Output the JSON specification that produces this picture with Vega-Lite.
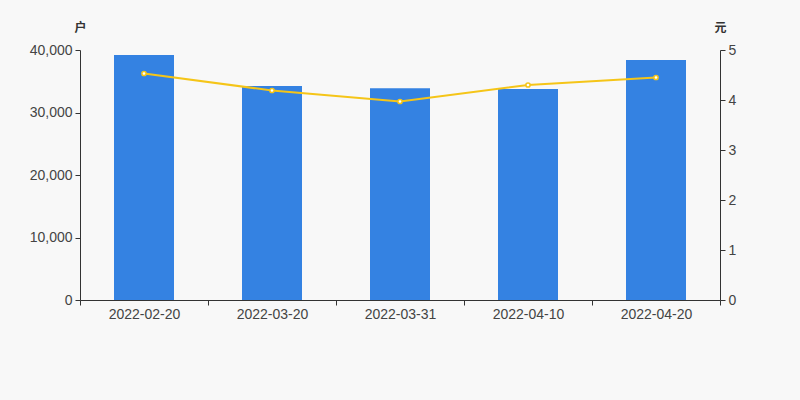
{
  "$schema": "https://vega.github.io/schema/vega-lite/v6.json",
  "width": 640,
  "height": 250,
  "autosize": {"type": "none"},
  "padding": {"left": 80, "top": 50, "right": 80, "bottom": 100},
  "background": "#f8f8f8",
  "config": {
    "view": {"stroke": null},
    "axis": {
      "labelFont": "Liberation Sans",
      "labelFontSize": 14,
      "labelColor": "#444",
      "domainColor": "#333",
      "tickColor": "#333",
      "grid": false,
      "titleFont": "Noto Sans CJK SC",
      "titleFontSize": 12,
      "titleFontWeight": "bold",
      "titleColor": "#333"
    }
  },
  "data": {
    "values": [
      {"date": "2022-02-20", "households": 39200, "price": 4.53},
      {"date": "2022-03-20", "households": 34240, "price": 4.19},
      {"date": "2022-03-31", "households": 33870, "price": 3.97},
      {"date": "2022-04-10", "households": 33760, "price": 4.30},
      {"date": "2022-04-20", "households": 38400, "price": 4.45}
    ]
  },
  "encoding": {
    "x": {
      "field": "date",
      "type": "nominal",
      "sort": null,
      "scale": {"paddingInner": 0, "paddingOuter": 0},
      "axis": {"title": null, "labelAngle": 0, "tickBand": "extent", "tickSize": 5, "labelPadding": 2}
    }
  },
  "layer": [
    {
      "mark": {"type": "bar", "size": 60, "color": "#3482e2"},
      "encoding": {
        "y": {
          "field": "households",
          "type": "quantitative",
          "scale": {"domain": [0, 40000]},
          "axis": {
            "values": [0, 10000, 20000, 30000, 40000],
            "format": ",.0f",
            "title": "户",
            "titleAngle": 0,
            "titleAlign": "center",
            "titleBaseline": "middle",
            "titleX": 0,
            "titleY": -23,
            "tickSize": 5,
            "labelPadding": 3
          }
        }
      }
    },
    {
      "mark": {
        "type": "line",
        "color": "#f5c518",
        "strokeWidth": 2,
        "point": {"filled": true, "fill": "white", "stroke": "#f5c518", "strokeWidth": 1.5, "size": 18}
      },
      "encoding": {
        "y": {
          "field": "price",
          "type": "quantitative",
          "scale": {"domain": [0, 5]},
          "axis": {
            "orient": "right",
            "values": [0, 1, 2, 3, 4, 5],
            "title": "元",
            "titleAngle": 0,
            "titleAlign": "center",
            "titleBaseline": "middle",
            "titleX": 0,
            "titleY": -23,
            "tickSize": 5,
            "labelPadding": 3
          }
        }
      }
    }
  ],
  "resolve": {"scale": {"y": "independent"}}
}
